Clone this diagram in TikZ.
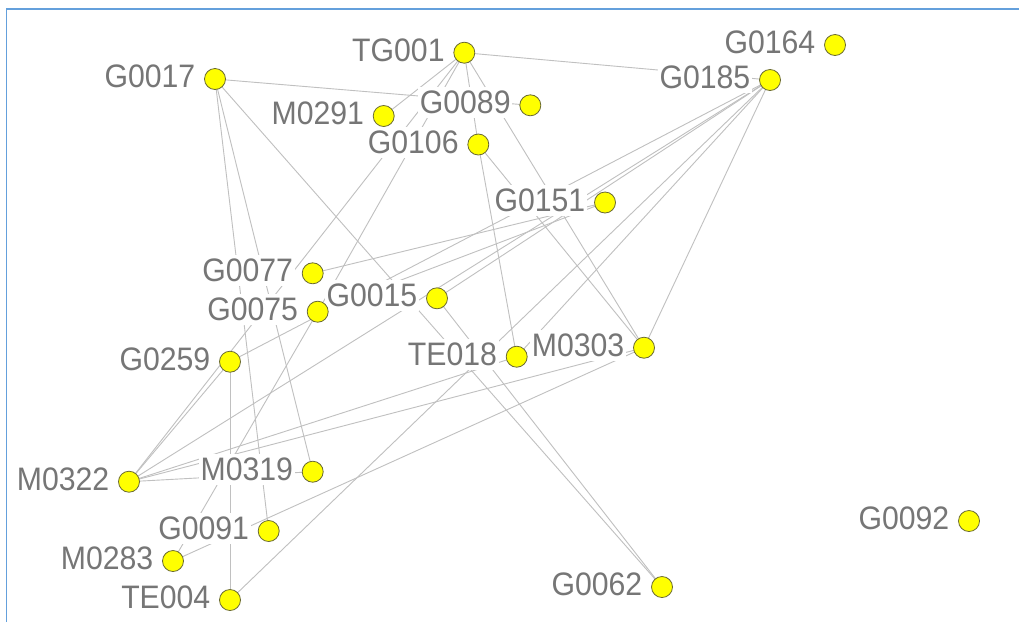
\documentclass[tikz,border=0pt]{standalone}
\usepackage{fontspec}
\setmainfont{Liberation Sans}[FakeStretch=0.93]
\definecolor{edgec}{RGB}{192,192,192}
\definecolor{labc}{RGB}{118,118,118}
\definecolor{dotc}{RGB}{255,255,0}
\definecolor{ringc}{RGB}{105,105,50}
\definecolor{framec}{RGB}{100,160,220}
\pgfdeclarelayer{bglayer}
\pgfdeclarelayer{edgelayer}
\pgfdeclarelayer{labellayer}
\pgfsetlayers{bglayer,edgelayer,labellayer,main}
\begin{document}
\begin{tikzpicture}[x=1pt,y=-1pt,
  dot/.style={circle,fill=dotc,draw=ringc,line width=0.8pt,minimum size=21pt,inner sep=0pt},
  lab/.style={anchor=east,fill=white,text=labc,inner xsep=1.5pt,inner ysep=4pt,
    font=\fontsize{32.5}{32.5}\selectfont},
  edge/.style={draw=edgec,line width=0.9pt}]
\useasboundingbox (0,0) rectangle (1019,622);
\begin{pgfonlayer}{bglayer}
\fill[white] (0,0) rectangle (1019,622);
\end{pgfonlayer}
\draw[framec,line width=1.6pt] (6.5,622) -- (6.5,9) -- (1019,9);
% nodes
\node[dot] (TG001) at (464.3,52.7) {};
\node[dot] (G0017) at (215,79) {};
\node[dot] (G0164) at (835,45) {};
\node[dot] (G0185) at (770,80) {};
\node[dot] (G0089) at (530.3,105.3) {};
\node[dot] (M0291) at (383.7,116) {};
\node[dot] (G0106) at (478.3,144.5) {};
\node[dot] (G0151) at (605,202.5) {};
\node[dot] (G0077) at (312.7,273.3) {};
\node[dot] (G0075) at (317.7,311.7) {};
\node[dot] (G0015) at (437,298.3) {};
\node[dot] (G0259) at (230,361.7) {};
\node[dot] (TE018) at (516.7,356.7) {};
\node[dot] (M0303) at (644,347.7) {};
\node[dot] (M0322) at (129,481.7) {};
\node[dot] (M0319) at (312.7,471.7) {};
\node[dot] (G0091) at (268.7,531) {};
\node[dot] (M0283) at (173,561) {};
\node[dot] (TE004) at (230,600) {};
\node[dot] (G0062) at (662,587) {};
\node[dot] (G0092) at (969,521) {};
% labels
\begin{pgfonlayer}{labellayer}
\foreach \n in {TG001,G0017,G0164,G0185,G0089,M0291,G0106,G0151,G0077,G0075,G0015,G0259,TE018,M0303,M0322,M0319,G0091,M0283,TE004,G0062,G0092}
  \node[lab] (L\n) at ([xshift=-18pt,yshift=2.5pt]\n.center) {\n};
\end{pgfonlayer}
% edges
\begin{pgfonlayer}{edgelayer}
\foreach \a/\b in {TG001/G0185,TG001/M0291,TG001/M0322,TG001/G0075,G0075/M0283,
  TG001/G0106,G0106/TE018,TG001/M0303,G0106/M0303,
  G0017/G0089,G0017/G0091,G0017/M0319,G0017/G0062,
  G0015/G0062,G0015/G0185,G0077/G0151,G0075/G0151,
  G0185/G0259,G0185/M0322,G0185/TE018,G0185/TE004,G0185/M0303,
  G0259/M0322,G0259/TE004,M0322/M0319,M0322/TE018,M0322/M0303,M0283/M0303}
  \draw[edge] (\a.center) -- (\b.center);
\end{pgfonlayer}
\end{tikzpicture}
\end{document}
